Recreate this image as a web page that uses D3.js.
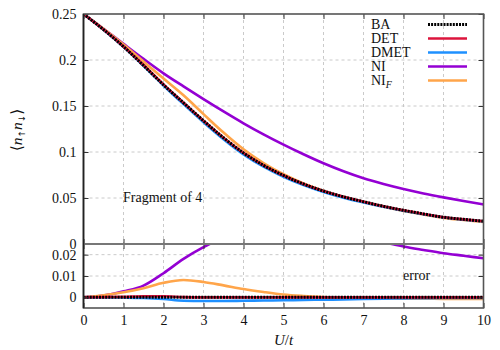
<!DOCTYPE html>
<html><head><meta charset="utf-8">
<script src="https://cdn.jsdelivr.net/npm/d3@7"></script>
<style>
html,body{margin:0;padding:0;background:#fff;}
text{font-family:"Liberation Serif","DejaVu Serif",serif;fill:#111;}
</style></head>
<body><svg id="c" width="500" height="350"></svg>
<script>
// ---- data ----
const U = [0,0.5,1,1.5,2,2.5,3,3.5,4,4.5,5,5.5,6,6.5,7,7.5,8,8.5,9,9.5,10];
const BA   = [0.25,0.233,0.2145,0.194,0.173,0.1535,0.134,0.1155,0.099,0.0855,0.0745,0.0652,0.0576,0.0513,0.046,0.041,0.0366,0.0327,0.0291,0.0268,0.0248];
const DET  = [0.25,0.2331,0.2147,0.1945,0.1735,0.1536,0.134,0.1155,0.099,0.0855,0.0745,0.0652,0.0576,0.0513,0.046,0.041,0.0366,0.0327,0.0291,0.0268,0.0248];
const DMET = [0.25,0.233,0.2144,0.1937,0.1723,0.1520,0.1324,0.1139,0.0974,0.0840,0.0731,0.064,0.0565,0.0503,0.0452,0.0404,0.0361,0.0323,0.0288,0.0265,0.0245];
const NI   = [0.25,0.234,0.2175,0.2012,0.1855,0.1713,0.1575,0.1441,0.1312,0.1192,0.108,0.0975,0.0877,0.079,0.0714,0.0652,0.0598,0.055,0.0507,0.0467,0.0431];
const NIF  = [0.25,0.234,0.2169,0.1983,0.1798,0.1616,0.1412,0.1211,0.1029,0.088,0.0758,0.0658,0.0577,0.0511,0.0456,0.0405,0.036,0.0321,0.0284,0.0261,0.024];
const errBA   = [0,0,0,0,0,0,0,0,0,0,0,0,0,0,0,0,0,0,0,0,0];
const errDET  = [0,0.0001,0.0002,0.0005,0.0005,0.0001,0,0,0,0,0,0,0,0,0,0,0,0,0,0,0];
const errDMET = [0,0,-0.0001,-0.0003,-0.0008,-0.0016,-0.0017,-0.0017,-0.0016,-0.0015,-0.0014,-0.0012,-0.0011,-0.001,-0.0008,-0.0006,-0.0005,-0.0004,-0.0003,-0.0003,-0.0003];
const errNI   = [0,0.0008,0.0028,0.0055,0.0113,0.018,0.0235,0.028,0.031,0.033,0.0335,0.033,0.0315,0.0295,0.0275,0.0258,0.0238,0.0222,0.0207,0.0195,0.0183];
const errNIF  = [0,0.001,0.0024,0.0043,0.0068,0.0081,0.0072,0.0056,0.0039,0.0025,0.0013,0.0006,0.0001,-0.0002,-0.0004,-0.0005,-0.0006,-0.0006,-0.0007,-0.0007,-0.0008];
const xTicks = [0,1,2,3,4,5,6,7,8,9,10];
const xLabels = ["0","1","2","3","4","5","6","7","8","9","10"];
const yTopTicks = [0,0.05,0.1,0.15,0.2,0.25];
const yTopLabels = ["0","0.05","0.1","0.15","0.2","0.25"];
const yBotTicks = [0,0.01,0.02];
const yBotLabels = ["0","0.01","0.02"];
const seriesNames = ["BA","DET","DMET","NI","NIF"];
const colors = {BA:"#000000",DET:"#DC143C",DMET:"#1E90FF",NI:"#9400D3",NIF:"#FFA54A"};

// ---- layout ----
const svg = d3.select("#c");
const L=83.5, R=483.5, T=14, M=244, B=308;
const x = d3.scaleLinear().domain([0,10]).range([L,R]);
const yT = d3.scaleLinear().domain([0,0.25]).range([M,T]);
const yB = d3.scaleLinear().domain([-0.005,0.025]).range([B,M]);

const defs = svg.append("defs");
defs.append("clipPath").attr("id","clipT").append("rect").attr("x",L).attr("y",T).attr("width",R-L).attr("height",M-T);
defs.append("clipPath").attr("id","clipB").append("rect").attr("x",L).attr("y",M).attr("width",R-L).attr("height",B-M);

// grid
const grid = svg.append("g").attr("stroke","#c4c4c4").attr("stroke-width",0.9).attr("stroke-dasharray","3,3");
xTicks.slice(1,-1).forEach(t=>{
  grid.append("line").attr("x1",x(t)).attr("x2",x(t)).attr("y1",T).attr("y2",B);
});
yTopTicks.slice(1,-1).forEach(t=>{
  grid.append("line").attr("x1",L).attr("x2",R).attr("y1",yT(t)).attr("y2",yT(t));
});
yBotTicks.slice(1).forEach(t=>{
  grid.append("line").attr("x1",L).attr("x2",R).attr("y1",yB(t)).attr("y2",yB(t));
});

// lines
function drawSet(y, data, clip){
  const g = svg.append("g").attr("clip-path",`url(#${clip})`).attr("fill","none");
  const line = d3.line().x((d,i)=>x(U[i])).y(d=>y(d)).curve(d3.curveMonotoneX);
  ["NI","NIF","DMET","DET"].forEach(n=>{
    g.append("path").attr("d",line(data[n])).attr("stroke",colors[n]).attr("stroke-width",2.6);
  });
  g.append("path").attr("d",line(data.BA)).attr("stroke","#000").attr("stroke-width",3).attr("stroke-dasharray","2,1.1");
}
drawSet(yT,{BA,DET,DMET,NI,NIF},"clipT");
drawSet(yB,{BA:errBA,DET:errDET,DMET:errDMET,NI:errNI,NIF:errNIF},"clipB");

// axes
const fmt = (ticks,labels)=> d=>labels[ticks.indexOf(d)];
const ax = svg.append("g").attr("font-size",14);
function addAxis(axis, tx, ty){
  const g = ax.append("g").attr("transform",`translate(${tx},${ty})`).call(axis);
  g.select(".domain").remove();
  g.selectAll(".tick line").attr("stroke","#333").attr("stroke-width",1);
  g.selectAll("text").attr("font-family","Liberation Serif, serif").attr("font-size",14).attr("fill","#111");
  return g;
}
const TS=-5;
addAxis(d3.axisLeft(yT).tickValues(yTopTicks).tickFormat(fmt(yTopTicks,yTopLabels)).tickSize(TS).tickPadding(7),L,0);
addAxis(d3.axisRight(yT).tickValues(yTopTicks).tickFormat("").tickSize(TS),R,0);
addAxis(d3.axisTop(x).tickValues(xTicks).tickFormat("").tickSize(TS),0,T);
addAxis(d3.axisBottom(x).tickValues(xTicks).tickFormat("").tickSize(TS),0,M);
addAxis(d3.axisTop(x).tickValues(xTicks).tickFormat("").tickSize(TS),0,M);
addAxis(d3.axisLeft(yB).tickValues(yBotTicks).tickFormat(fmt(yBotTicks,yBotLabels)).tickSize(TS).tickPadding(7),L,0);
addAxis(d3.axisRight(yB).tickValues(yBotTicks).tickFormat("").tickSize(TS),R,0);
addAxis(d3.axisBottom(x).tickValues(xTicks).tickFormat(fmt(xTicks,xLabels)).tickSize(TS).tickPadding(7),0,B);

// borders
const bd = svg.append("g").attr("fill","none");
bd.append("rect").attr("x",L).attr("y",T).attr("width",R-L).attr("height",B-T).attr("stroke","#555").attr("stroke-width",1.6);
bd.append("line").attr("x1",L).attr("x2",R).attr("y1",M).attr("y2",M).attr("stroke","#777").attr("stroke-width",2);
bd.append("line").attr("x1",L).attr("x2",L).attr("y1",T).attr("y2",B).attr("stroke","#222").attr("stroke-width",1.6);

// legend
const lg = svg.append("g");
seriesNames.forEach((n,i)=>{
  const yy = 24.5 + i*14;
  const t = lg.append("text").attr("x",371).attr("y",yy+4.6).attr("font-size",14);
  if(n==="NIF"){ t.append("tspan").text("NI"); t.append("tspan").attr("font-style","italic").attr("font-size",10).attr("dy",2.5).text("F"); }
  else t.text(n);
  const ln = lg.append("line").attr("x1",428).attr("x2",467).attr("y1",yy).attr("y2",yy).attr("stroke",colors[n]);
  if(n==="BA") ln.attr("stroke-width",3).attr("stroke-dasharray","2,1.1");
  else ln.attr("stroke-width",2.6);
});

// annotations
svg.append("text").attr("x",123).attr("y",202).attr("font-size",14).text("Fragment of 4");
svg.append("text").attr("x",403).attr("y",280).attr("font-size",14).text("error");

// axis labels
const xl = svg.append("text").attr("x",283.5).attr("y",345).attr("text-anchor","middle").attr("font-size",15);
xl.append("tspan").attr("font-style","italic").text("U");
xl.append("tspan").text("/");
xl.append("tspan").attr("font-style","italic").text("t");

const yl = svg.append("text").attr("transform","translate(22,130) rotate(-90)").attr("text-anchor","middle").attr("font-size",15.5);
yl.append("tspan").text("\u27E8");
yl.append("tspan").attr("font-style","italic").text("n");
yl.append("tspan").attr("font-family","DejaVu Sans").attr("font-size",9).attr("dy",3).text("\u2191");
yl.append("tspan").attr("font-style","italic").attr("dy",-3).text("n");
yl.append("tspan").attr("font-family","DejaVu Sans").attr("font-size",9).attr("dy",3).text("\u2193");
yl.append("tspan").attr("dy",-3).text("\u27E9");
</script></body></html>
